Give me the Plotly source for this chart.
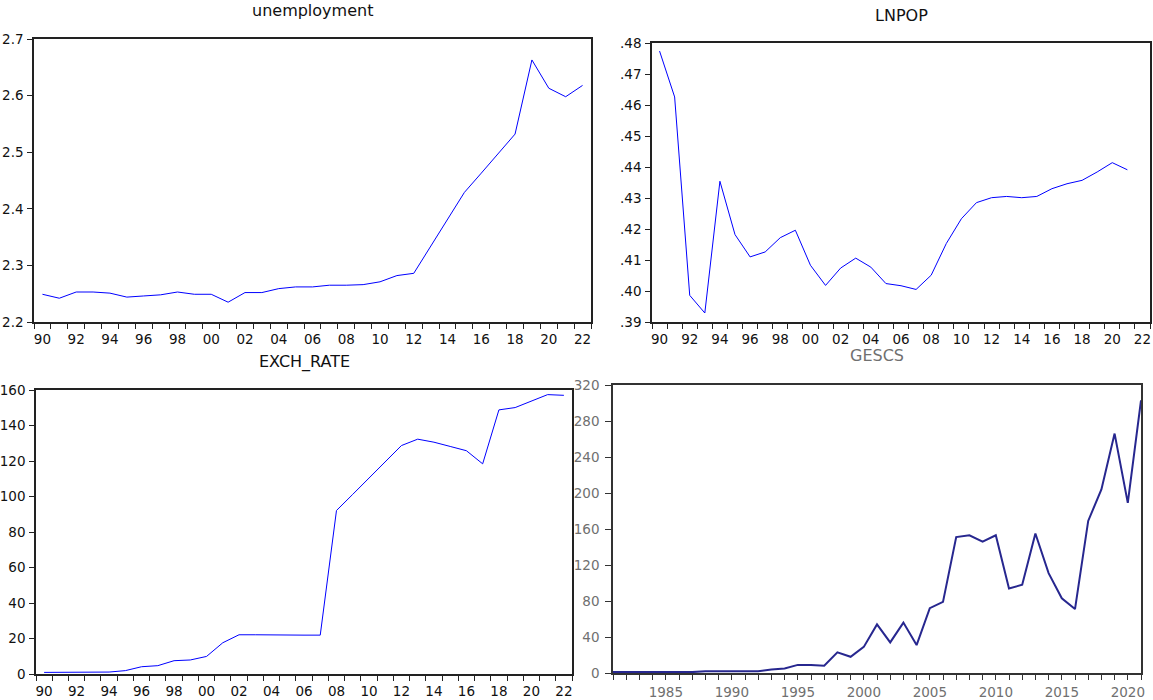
import plotly.graph_objects as go

years_a = list(range(1990, 2023))
unemployment = [2.249, 2.242, 2.253, 2.253, 2.251, 2.244, 2.246, 2.248, 2.253, 2.249,
                2.249, 2.235, 2.252, 2.252, 2.259, 2.262, 2.262, 2.265, 2.265, 2.266,
                2.271, 2.282, 2.286, 2.334, 2.382, 2.429, 2.463, 2.498, 2.532, 2.663,
                2.613, 2.598, 2.618]

years_b = list(range(1990, 2022))
lnpop = [0.4774, 0.4626, 0.3986, 0.3929, 0.4354, 0.4182, 0.4110, 0.4126, 0.4172, 0.4196,
         0.4083, 0.4018, 0.4074, 0.4106, 0.4077, 0.4024, 0.4017, 0.4005, 0.4051, 0.4153,
         0.4233, 0.4285, 0.4301, 0.4305, 0.4301, 0.4305, 0.4330, 0.4346, 0.4357, 0.4384,
         0.4414, 0.4391]

years_c = list(range(1990, 2023))
exch_rate = [0.9, 0.9, 0.9, 1.0, 1.1, 1.9, 4.1, 4.7, 7.5, 7.9,
             9.9, 17.6, 22.1, 22.1, 21.9, 21.9, 21.9, 21.9, 92.1, 101.2,
             110.4, 119.5, 128.7, 132.3, 130.6, 128.2, 125.8, 118.4, 148.8, 150.1,
             153.6, 157.4, 157.0]

years_d = list(range(1981, 2022))
gescs = [1, 1, 1, 1, 1, 1, 1, 2, 2, 2,
         2, 2, 4, 5, 9, 9, 8, 23, 18, 29,
         54, 34, 56, 31, 72, 79, 151, 153, 146, 153,
         94, 98, 155, 111, 83, 71, 169, 204, 266, 189,
         303]

ticks_unemp = [2.2, 2.3, 2.4, 2.5, 2.6, 2.7]
ticks_lnpop = [0.39, 0.40, 0.41, 0.42, 0.43, 0.44, 0.45, 0.46, 0.47, 0.48]
ticks_exch = [0, 20, 40, 60, 80, 100, 120, 140, 160]
ticks_gescs = [0, 40, 80, 120, 160, 200, 240, 280, 320]
xlabel_years = list(range(1990, 2023, 2))
gescs_label_years = list(range(1985, 2021, 5))

W, H = 1153, 700
FONT = "DejaVu Sans, Verdana, sans-serif"


def px_x(a, b):
    return [a / W, b / W]


def px_y(top, bottom):
    return [1 - bottom / H, 1 - top / H]


fig = go.Figure()

fig.add_trace(go.Scatter(x=years_a, y=unemployment, mode="lines",
                         line=dict(color="#0000ff", width=1), xaxis="x", yaxis="y"))
fig.add_trace(go.Scatter(x=years_b, y=lnpop, mode="lines",
                         line=dict(color="#0000ff", width=1), xaxis="x2", yaxis="y2"))
fig.add_trace(go.Scatter(x=years_c, y=exch_rate, mode="lines",
                         line=dict(color="#0000ff", width=1), xaxis="x3", yaxis="y3"))
fig.add_trace(go.Scatter(x=years_d, y=gescs, mode="lines",
                         line=dict(color="#27278f", width=2), xaxis="x4", yaxis="y4"))

tickfont = dict(family=FONT, size=13.5, color="#111111")
grayfont = dict(family=FONT, size=13.5, color="#707070")


def year_xaxis(domain, anchor):
    return dict(domain=domain, anchor=anchor, range=[1989.5, 2022.5],
                tickmode="array", tickvals=xlabel_years,
                ticktext=[f"{y % 100:02d}" for y in xlabel_years],
                ticks="", showgrid=False, zeroline=False,
                showline=True, linecolor="#222222", linewidth=1.5, mirror=True,
                tickfont=tickfont, ticklabelstandoff=4,
                minor=dict(tick0=1989.5, dtick=1, ticks="outside", ticklen=5,
                           tickcolor="#222222", tickwidth=1, showgrid=False))


def val_yaxis(domain, anchor, rng, vals, texts):
    return dict(domain=domain, anchor=anchor, range=rng,
                tickmode="array", tickvals=vals, ticktext=texts,
                ticks="outside", ticklen=5, tickcolor="#222222", tickwidth=1,
                showgrid=False, zeroline=False,
                showline=True, linecolor="#222222", linewidth=1.5, mirror=True,
                tickfont=tickfont, ticklabelstandoff=1)


d1x, d1y = px_x(34, 591), px_y(39, 322)
d2x, d2y = px_x(652, 1150), px_y(43, 322)
d3x, d3y = px_x(36, 572), px_y(390, 674)
d4x, d4y = px_x(613, 1141), px_y(385, 673)

fig.update_layout(
    width=W, height=H, margin=dict(l=0, r=0, t=0, b=0, pad=0, autoexpand=False),
    paper_bgcolor="white", plot_bgcolor="white", showlegend=False,
    xaxis=year_xaxis(d1x, "y"),
    yaxis=val_yaxis(d1y, "x", [2.2, 2.7], ticks_unemp, [f"{v:.1f}" for v in ticks_unemp]),
    xaxis2=year_xaxis(d2x, "y2"),
    yaxis2=val_yaxis(d2y, "x2", [0.39, 0.48], ticks_lnpop,
                     [f"{v:.2f}".lstrip("0") for v in ticks_lnpop]),
    xaxis3=year_xaxis(d3x, "y3"),
    yaxis3=val_yaxis(d3y, "x3", [0, 160], ticks_exch, [str(v) for v in ticks_exch]),
    xaxis4=dict(domain=d4x, anchor="y4", range=[1981, 2021],
                tickmode="array", tickvals=gescs_label_years,
                ticktext=[str(y) for y in gescs_label_years],
                ticks="outside", ticklen=5, tickcolor="#333333",
                showgrid=False, zeroline=False,
                showline=True, linecolor="#333333", linewidth=1.5, mirror=True,
                tickfont=grayfont, ticklabelstandoff=1,
                minor=dict(tick0=1981, dtick=1, ticks="outside", ticklen=5,
                           tickcolor="#333333", showgrid=False)),
    yaxis4=dict(domain=d4y, anchor="x4", range=[0, 320],
                tickmode="array", tickvals=ticks_gescs, ticktext=[str(v) for v in ticks_gescs],
                ticks="outside", ticklen=6, tickcolor="#333333",
                showgrid=False, zeroline=False,
                showline=True, linecolor="#333333", linewidth=1.5, mirror=True,
                tickfont=grayfont, ticklabelstandoff=3),
)

titles = [("unemployment", sum(d1x) / 2, 1 - 11 / H, "#111111"),
          ("LNPOP", sum(d2x) / 2, 1 - 15 / H, "#111111"),
          ("EXCH_RATE", sum(d3x) / 2, 1 - 362 / H, "#111111"),
          ("GESCS", sum(d4x) / 2, 1 - 355 / H, "#707070")]
for text, x, y, color in titles:
    fig.add_annotation(text=text, x=x, y=y, xref="paper", yref="paper",
                       showarrow=False, xanchor="center", yanchor="middle",
                       font=dict(family=FONT, size=16, color=color))

fig.write_html("out.html", config={"displayModeBar": False},
               post_script="document.body.style.margin='0';")
